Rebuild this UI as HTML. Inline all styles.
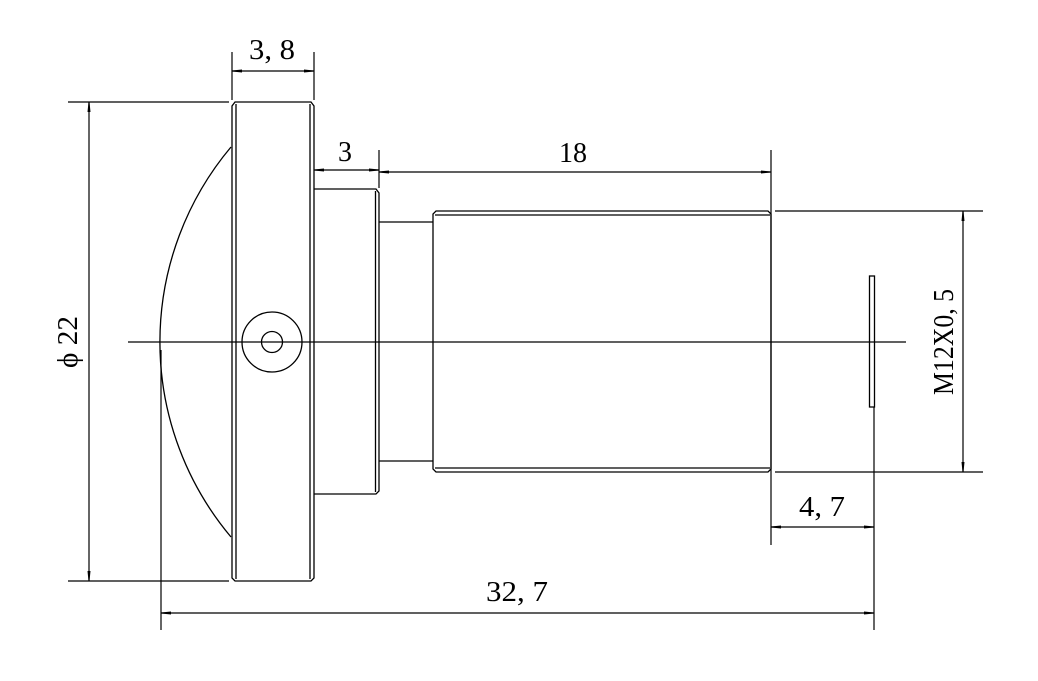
<!DOCTYPE html>
<html><head><meta charset="utf-8"><style>html,body{margin:0;padding:0;background:#fff}</style></head>
<body>
<svg width="1038" height="676" viewBox="0 0 1038 676" xmlns="http://www.w3.org/2000/svg">
<defs>
<marker id="a" viewBox="0 0 10 4" refX="10" refY="2" markerWidth="10" markerHeight="4" markerUnits="userSpaceOnUse" orient="auto-start-reverse"><path d="M0,0.5 L10,1.5 L10,2.5 L0,3.5z" fill="#000"/></marker>
</defs>
<g stroke="#000" stroke-width="1.3" fill="none">
<!-- centerline -->
<line x1="128" y1="342" x2="906" y2="342"/>
<!-- dome arc -->
<path d="M231,147 A303,303 0 0 0 231,537"/>
<!-- flange -->
<path d="M235,102 L311,102 L314,106 L314,578 L311,581 L235,581 L232,578 L232,106 Z"/>
<line x1="236" y1="104" x2="236" y2="579"/>
<line x1="310" y1="104" x2="310" y2="579"/>
<circle cx="272" cy="342" r="30"/>
<circle cx="272" cy="342" r="10.5"/>
<!-- step1 -->
<path d="M314,189 L376,189 L379,193 L379,491 L376,494 L314,494"/>
<line x1="375.5" y1="191" x2="375.5" y2="492"/>
<!-- neck -->
<line x1="379" y1="222" x2="433" y2="222"/>
<line x1="379" y1="461" x2="433" y2="461"/>
<!-- barrel -->
<path d="M436,211 L768,211 L771,214 L771,469 L768,472 L436,472 L433,469 L433,214 Z"/>
<line x1="435" y1="215" x2="770" y2="215"/>
<line x1="435" y1="468" x2="770" y2="468"/>
<!-- sensor -->
<rect x="869.5" y="276" width="5" height="131"/>
</g>
<g stroke="#000" stroke-width="1.2" fill="none">
<!-- ext lines -->
<line x1="68" y1="102" x2="229" y2="102"/>
<line x1="68" y1="581" x2="229" y2="581"/>
<line x1="232" y1="52" x2="232" y2="100"/>
<line x1="314" y1="52" x2="314" y2="100"/>
<line x1="379" y1="150" x2="379" y2="188"/>
<line x1="771" y1="150" x2="771" y2="545"/>
<line x1="775" y1="211" x2="983" y2="211"/>
<line x1="775" y1="472" x2="983" y2="472"/>
<line x1="874" y1="407" x2="874" y2="630"/>
<line x1="161" y1="350" x2="161" y2="630"/>
<!-- dim lines -->
<line x1="232" y1="71" x2="314" y2="71" marker-start="url(#a)" marker-end="url(#a)"/>
<line x1="314" y1="170" x2="379" y2="170" marker-start="url(#a)" marker-end="url(#a)"/>
<line x1="379" y1="172" x2="771" y2="172" marker-start="url(#a)" marker-end="url(#a)"/>
<line x1="963" y1="211" x2="963" y2="472" marker-start="url(#a)" marker-end="url(#a)"/>
<line x1="771" y1="527" x2="874" y2="527" marker-start="url(#a)" marker-end="url(#a)"/>
<line x1="161" y1="613" x2="874" y2="613" marker-start="url(#a)" marker-end="url(#a)"/>
<line x1="89" y1="102" x2="89" y2="581" marker-start="url(#a)" marker-end="url(#a)"/>
</g>
<g font-family="Liberation Serif, serif" font-size="28" fill="#000" text-anchor="middle">
<text x="272" y="59" textLength="46" lengthAdjust="spacingAndGlyphs">3, 8</text>
<text x="345" y="161">3</text>
<text x="573" y="162">18</text>
<text x="822" y="516" textLength="46" lengthAdjust="spacingAndGlyphs">4, 7</text>
<text x="517" y="601" textLength="62" lengthAdjust="spacingAndGlyphs">32, 7</text>
<text transform="translate(953,342) rotate(-90)" textLength="106" lengthAdjust="spacingAndGlyphs">M12X0, 5</text>
<text transform="translate(77,342) rotate(-90)" textLength="52" lengthAdjust="spacingAndGlyphs">ϕ 22</text>
</g>
</svg>
</body></html>
